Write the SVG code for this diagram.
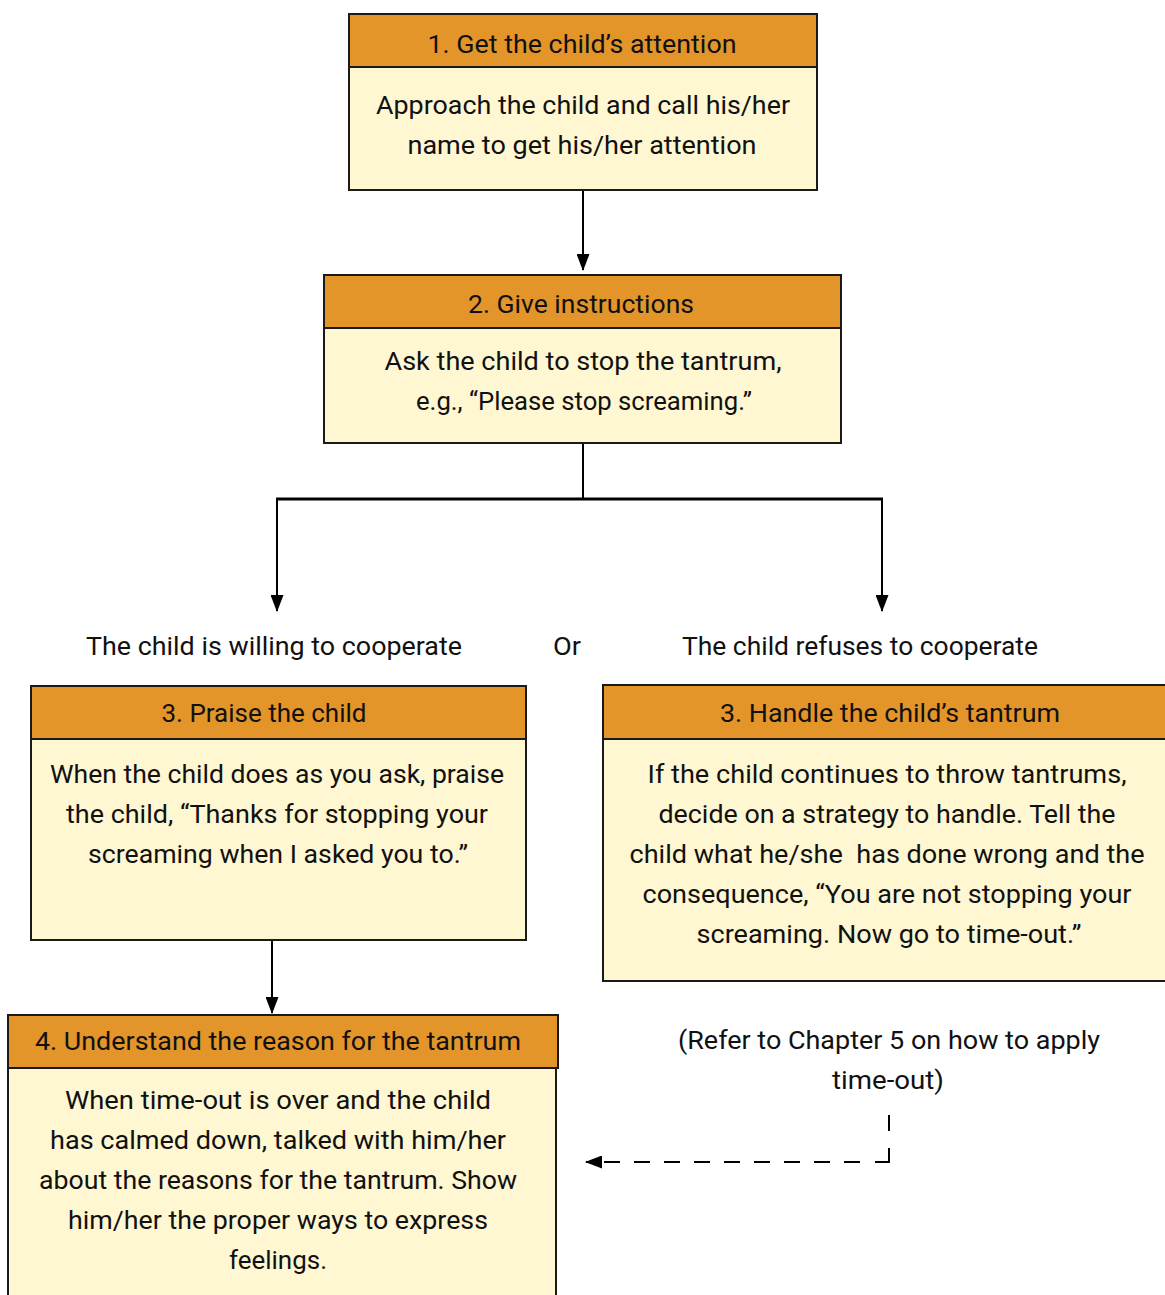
<svg xmlns="http://www.w3.org/2000/svg" width="1165" height="1295" viewBox="0 0 1165 1295">
<style>
.hd{fill:#E3952A;stroke:#1a1a1a;stroke-width:2}
.bd{fill:#FEF7D1;stroke:#1a1a1a;stroke-width:2}
text{font-family:Roboto,"Liberation Sans",sans-serif;font-size:26.5px;fill:#111;text-anchor:middle}
.ln{fill:none;stroke:#000;stroke-width:2}
</style>
<defs>
<marker id="ah2" viewBox="0 0 17 13" refX="16" refY="6.5" markerWidth="17" markerHeight="13" markerUnits="userSpaceOnUse" orient="auto">
<path d="M0,0 L17,6.5 L0,13 Z" fill="#000"/>
</marker>
</defs>
<rect width="1165" height="1295" fill="#fff"/>

<g id="connectors">
<line class="ln" x1="583" y1="190" x2="583" y2="270" marker-end="url(#ah2)"/>
<line class="ln" x1="583" y1="443" x2="583" y2="499"/>
<line stroke="#000" stroke-width="3" x1="276" y1="499" x2="883" y2="499"/>
<line class="ln" x1="277" y1="498" x2="277" y2="611" marker-end="url(#ah2)"/>
<line class="ln" x1="882" y1="498" x2="882" y2="611" marker-end="url(#ah2)"/>
<line class="ln" x1="272" y1="940" x2="272" y2="1013" marker-end="url(#ah2)"/>
<line stroke="#000" stroke-width="2" x1="889" y1="1115" x2="889" y2="1131"/>
<line stroke="#000" stroke-width="2" x1="889" y1="1148" x2="889" y2="1163"/>
<line stroke="#000" stroke-width="2" x1="890" y1="1162" x2="875" y2="1162"/>
<line class="ln" stroke-dasharray="16,14" x1="860" y1="1162" x2="586" y2="1162" marker-end="url(#ah2)"/>
</g>

<g id="node1">
<rect class="bd" x="349" y="67" width="468" height="123"/>
<rect class="hd" x="349" y="14" width="468" height="53"/>
<text x="582" y="53" textLength="309" lengthAdjust="spacingAndGlyphs">1. Get the child’s attention</text>
<text x="583" y="114" textLength="414" lengthAdjust="spacingAndGlyphs">Approach the child and call his/her</text>
<text x="582" y="154" textLength="349" lengthAdjust="spacingAndGlyphs">name to get his/her attention</text>
</g>

<g id="node2">
<rect class="bd" x="324" y="328" width="517" height="115"/>
<rect class="hd" x="324" y="275" width="517" height="53"/>
<text x="581" y="313" textLength="226" lengthAdjust="spacingAndGlyphs">2. Give instructions</text>
<text x="583" y="370" textLength="397" lengthAdjust="spacingAndGlyphs">Ask the child to stop the tantrum,</text>
<text x="584" y="410" textLength="336" lengthAdjust="spacingAndGlyphs">e.g., “Please stop screaming.”</text>
</g>

<g id="labels">
<text x="274" y="655" textLength="376" lengthAdjust="spacingAndGlyphs">The child is willing to cooperate</text>
<text x="567" y="655" textLength="28" lengthAdjust="spacingAndGlyphs">Or</text>
<text x="860" y="655" textLength="356" lengthAdjust="spacingAndGlyphs">The child refuses to cooperate</text>
</g>

<g id="node3a">
<rect class="bd" x="31" y="739" width="495" height="201"/>
<rect class="hd" x="31" y="686" width="495" height="53"/>
<text x="264" y="722" textLength="205" lengthAdjust="spacingAndGlyphs">3. Praise the child</text>
<text x="277" y="783" textLength="454" lengthAdjust="spacingAndGlyphs">When the child does as you ask, praise</text>
<text x="277" y="823" textLength="422" lengthAdjust="spacingAndGlyphs">the child, “Thanks for stopping your</text>
<text x="278" y="863" textLength="380" lengthAdjust="spacingAndGlyphs">screaming when I asked you to.”</text>
</g>

<g id="node3b">
<rect class="bd" x="603" y="739" width="570" height="242"/>
<rect class="hd" x="603" y="685" width="570" height="54"/>
<text x="890" y="722" textLength="340" lengthAdjust="spacingAndGlyphs">3. Handle the child’s tantrum</text>
<text x="887" y="783" textLength="479" lengthAdjust="spacingAndGlyphs">If the child continues to throw tantrums,</text>
<text x="887" y="823" textLength="457" lengthAdjust="spacingAndGlyphs">decide on a strategy to handle. Tell the</text>
<text x="887" y="863" textLength="515" lengthAdjust="spacingAndGlyphs" xml:space="preserve">child what he/she  has done wrong and the</text>
<text x="887" y="903" textLength="489" lengthAdjust="spacingAndGlyphs">consequence, “You are not stopping your</text>
<text x="889" y="943" textLength="385" lengthAdjust="spacingAndGlyphs">screaming. Now go to time-out.”</text>
</g>

<g id="node4">
<rect class="bd" x="8" y="1068" width="548" height="240"/>
<rect class="hd" x="8" y="1015" width="550" height="53"/>
<text x="278" y="1050" textLength="486" lengthAdjust="spacingAndGlyphs">4. Understand the reason for the tantrum</text>
<text x="278" y="1109" textLength="426" lengthAdjust="spacingAndGlyphs">When time-out is over and the child</text>
<text x="278" y="1149" textLength="456" lengthAdjust="spacingAndGlyphs">has calmed down, talked with him/her</text>
<text x="278" y="1189" textLength="478" lengthAdjust="spacingAndGlyphs">about the reasons for the tantrum. Show</text>
<text x="278" y="1229" textLength="420" lengthAdjust="spacingAndGlyphs">him/her the proper ways to express</text>
<text x="278" y="1269" textLength="98" lengthAdjust="spacingAndGlyphs">feelings.</text>
</g>

<g id="note">
<text x="889" y="1049" textLength="422" lengthAdjust="spacingAndGlyphs">(Refer to Chapter 5 on how to apply</text>
<text x="888" y="1089" textLength="112" lengthAdjust="spacingAndGlyphs">time-out)</text>
</g>
</svg>
